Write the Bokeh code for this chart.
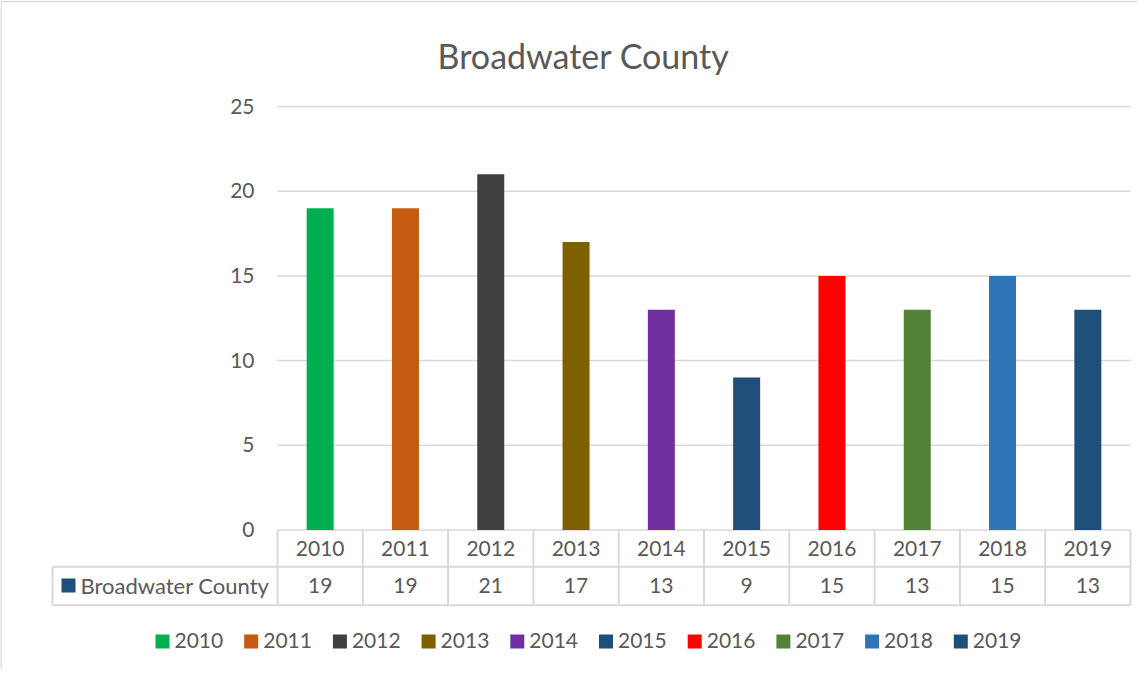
import numpy as np
from bokeh.plotting import figure
from bokeh.models import Range1d
from bokeh.core.properties import value
from bokeh.embed import file_html
from bokeh.resources import INLINE

# ---------------- data ----------------
chart_title = "Broadwater County"
series_name = "Broadwater County"
years = ["2010", "2011", "2012", "2013", "2014", "2015", "2016", "2017", "2018", "2019"]
counts = [19, 19, 21, 17, 13, 9, 15, 13, 15, 13]
bar_colors = ["#00B050", "#C55A11", "#404040", "#7F6000", "#7030A0",
              "#1F4E79", "#FF0000", "#538135", "#2E75B6", "#1F4E79"]
y_ticks = [0, 5, 10, 15, 20, 25]
series_color = "#1F4E79"

# ---------------- layout (canvas pixels) ----------------
W, H = 1137, 669
PLOT_L, PLOT_R = 277.0, 1130.0      # plot area left/right
Y0_PX, YTOP_PX = 529.5, 106.0       # pixel of value 0 and of value 25
FONT = "Lato"
TXT = "#595959"
LINE = "#D9D9D9"
TXT_SHIFT = -8.0                    # text baseline correction

n = len(years)
cw = (PLOT_R - PLOT_L) / n
upx = (Y0_PX - YTOP_PX) / y_ticks[-1]

def px2x(px):
    return (np.asarray(px, dtype=float) - PLOT_L) / cw

def py2y(py):
    return (Y0_PX - np.asarray(py, dtype=float)) / upx

p = figure(width=W, height=H,
           x_range=Range1d(float(px2x(0)), float(px2x(W))),
           y_range=Range1d(float(py2y(H)), float(py2y(0))),
           x_axis_type=None, y_axis_type=None,
           min_border=0, min_border_left=0, min_border_right=0,
           min_border_top=0, min_border_bottom=0,
           toolbar_location=None, output_backend="svg")
p.outline_line_color = None
p.grid.visible = False
p.background_fill_color = "white"
p.border_fill_color = "white"

# chart border (top and left)
p.segment(x0=[float(px2x(0)), float(px2x(0.5))], y0=[float(py2y(1)), float(py2y(1))],
          x1=[float(px2x(W)), float(px2x(0.5))], y1=[float(py2y(1)), float(py2y(H))],
          line_color=LINE, line_width=1.5)

# title
p.text(x=[float(px2x(583))], y=[float(py2y(62.7 + TXT_SHIFT))], text=[chart_title],
       text_font=value(FONT), text_font_size="34px", text_color=TXT,
       text_align="center", text_baseline="alphabetic")

# gridlines
p.segment(x0=[0] * len(y_ticks), x1=[n] * len(y_ticks), y0=y_ticks, y1=y_ticks,
          line_color=LINE, line_width=1.5)

# y tick labels
p.text(x=[float(px2x(254))] * len(y_ticks), y=y_ticks, text=[str(t) for t in y_ticks],
       y_offset=7.5 + TXT_SHIFT, text_font=value(FONT), text_font_size="21px", text_color=TXT,
       text_align="right", text_baseline="alphabetic")

# bars
xc = np.arange(n) + 0.5
p.vbar(x=xc, top=counts, bottom=0, width=27.0 / cw,
       fill_color=bar_colors, line_color=None)

# data table
ROW1_B = 566.3
ROW2_B = 604.7
TAB_L = float(px2x(52))
y_r1 = float(py2y(ROW1_B))
y_r2 = float(py2y(ROW2_B))
p.segment(x0=[TAB_L, TAB_L], x1=[n, n], y0=[y_r1, y_r2], y1=[y_r1, y_r2],
          line_color=LINE, line_width=2)
p.segment(x0=list(range(n + 1)), x1=list(range(n + 1)),
          y0=[0] * (n + 1), y1=[y_r2] * (n + 1), line_color=LINE, line_width=2)
p.segment(x0=[TAB_L], x1=[TAB_L], y0=[y_r1], y1=[y_r2],
          line_color=LINE, line_width=2)
p.text(x=xc, y=[float(py2y(555.7 + TXT_SHIFT))] * n, text=years,
       text_font=value(FONT), text_font_size="21px", text_color=TXT,
       text_align="center", text_baseline="alphabetic")
p.text(x=xc, y=[float(py2y(593.3 + TXT_SHIFT))] * n, text=[str(c) for c in counts],
       text_font=value(FONT), text_font_size="21px", text_color=TXT,
       text_align="center", text_baseline="alphabetic")
p.rect(x=[float(px2x(68))], y=[float(py2y(585))], width=14, height=14,
       width_units="screen", height_units="screen",
       fill_color=series_color, line_color=None)
p.text(x=[float(px2x(80))], y=[float(py2y(593.3 + TXT_SHIFT))], text=[series_name],
       text_font=value(FONT), text_font_size="22px", text_color=TXT,
       text_align="left", text_baseline="alphabetic")

# legend
LEG_X0, LEG_DX = 162.0, 88.7
leg_px = LEG_X0 + LEG_DX * np.arange(n)
p.rect(x=px2x(leg_px), y=[float(py2y(641))] * n, width=14, height=14,
       width_units="screen", height_units="screen",
       fill_color=bar_colors, line_color=None)
p.text(x=px2x(leg_px + 12), y=[float(py2y(648.3 + TXT_SHIFT))] * n, text=years,
       text_font=value(FONT), text_font_size="21px", text_color=TXT,
       text_align="left", text_baseline="alphabetic")

open("out.html", "w").write(file_html(p, INLINE))
